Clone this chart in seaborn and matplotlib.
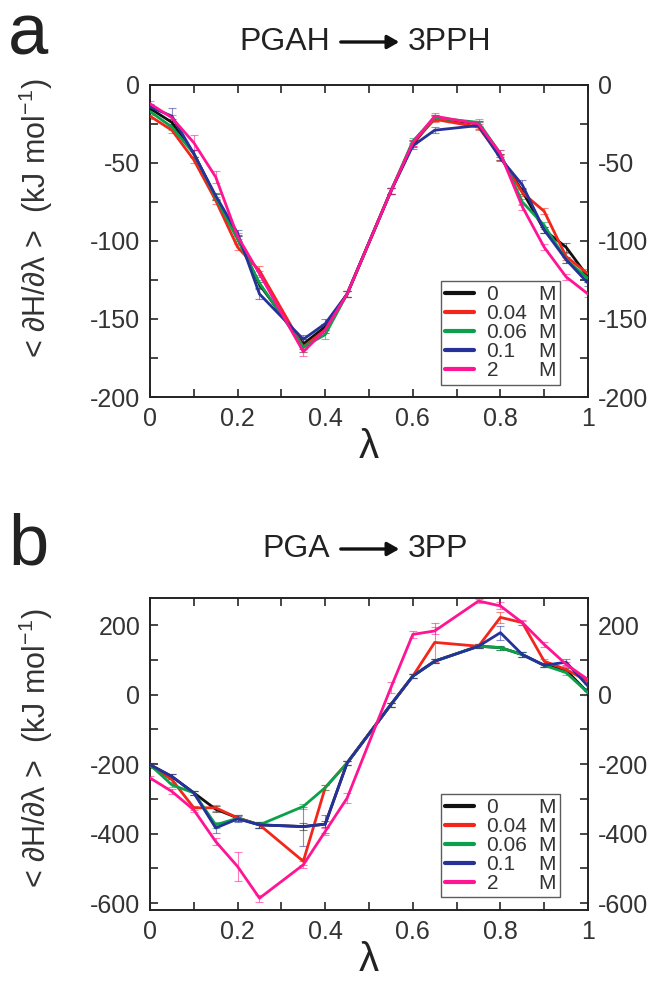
import numpy as np
import pandas as pd
import matplotlib
matplotlib.use("Agg")
import matplotlib.pyplot as plt
from matplotlib.lines import Line2D
import seaborn as sns

# lambda windows
lam = [0, 0.05, 0.1, 0.15, 0.2, 0.25, 0.35, 0.4, 0.45, 0.55, 0.6, 0.65, 0.75, 0.8, 0.85, 0.9, 0.95, 1.0]
conc = ["0", "0.04", "0.06", "0.1", "2"]
colors = ["#111111", "#f2261a", "#0aa14a", "#26319a", "#ff1493"]

# panel a: PGAH -> 3PPH
a_0 = [-15, -24, -44, -72, -98, -128, -166, -155, -134, -68, -38, -21, -25, -46, -68, -93, -104, -123]
a_004 = [-20, -29, -48, -74, -104, -119, -168, -157, -134, -68, -37, -22, -27, -46, -69, -81, -110, -121]
a_006 = [-17, -27, -44, -72, -99, -127, -168, -160, -134, -68, -36, -21, -24, -44, -75, -90, -112, -124]
a_01 = [-14, -20, -44, -71, -95, -134, -163, -153, -134, -68, -39, -29, -26, -47, -64, -93, -112, -127]
a_2 = [-12, -21, -37, -59, -97, -121, -171, -157, -134, -68, -37, -20, -25, -44, -78, -104, -123, -134]
a_err_0 = [2, 2, 2, 2, 2, 2, 3, 2, 2, 2, 2, 2, 2, 2, 2, 2, 3, 3]
a_err_004 = [2, 2, 2, 2, 2, 3, 3, 2, 2, 2, 2, 2, 2, 2, 2, 2, 2, 3]
a_err_006 = [2, 2, 2, 2, 2, 2, 3, 3, 2, 2, 2, 2, 2, 2, 2, 2, 2, 2]
a_err_01 = [2, 5, 2, 2, 2, 3, 3, 3, 2, 2, 2, 2, 2, 2, 3, 2, 2, 2]
a_err_2 = [2, 2, 5, 4, 2, 2, 3, 2, 2, 2, 2, 2, 2, 2, 2, 2, 2, 2]

# panel b: PGA -> 3PP
b_0 = [-202, -236, -283, -330, -355, -375, -380, -373, -197, -29, 53, 96, 139, 135, 115, 84, 70, 5]
b_004 = [-205, -245, -326, -326, -355, -375, -480, -268, -197, -29, 53, 150, 139, 222, 207, 96, 72, 38]
b_006 = [-202, -260, -283, -375, -356, -375, -322, -268, -197, -29, 53, 96, 139, 135, 115, 84, 63, 5]
b_01 = [-202, -236, -283, -384, -358, -375, -380, -373, -197, -29, 53, 96, 139, 178, 115, 84, 93, 24]
b_2 = [-240, -279, -332, -423, -495, -586, -490, -394, -298, 20, 173, 183, 269, 255, 207, 144, 87, 43]
b_err_0 = [6, 6, 6, 8, 8, 8, 10, 8, 6, 6, 6, 6, 6, 6, 6, 6, 6, 6]
b_err_004 = [6, 6, 6, 8, 8, 8, 10, 8, 6, 6, 6, 55, 6, 15, 6, 6, 6, 6]
b_err_006 = [6, 6, 6, 8, 8, 8, 8, 8, 6, 6, 6, 6, 6, 6, 6, 6, 6, 6]
b_err_01 = [6, 6, 6, 15, 8, 8, 55, 25, 6, 6, 6, 6, 6, 20, 6, 6, 8, 6]
b_err_2 = [6, 8, 6, 10, 42, 10, 10, 10, 15, 15, 10, 10, 6, 10, 8, 6, 6, 6]

sns.set_style("ticks")
plt.rcParams["font.family"] = ["Liberation Sans", "DejaVu Sans"]
plt.rcParams["mathtext.fontset"] = "custom"
plt.rcParams["mathtext.rm"] = "Liberation Sans"
plt.rcParams["mathtext.it"] = "Liberation Sans:italic"

fig = plt.figure(figsize=(6.57, 9.81), dpi=100)
ax_a = fig.add_axes([0.2283, 0.5953, 0.6667, 0.3181])
ax_b = fig.add_axes([0.2283, 0.0724, 0.6667, 0.3181])


def draw_panel(ax, series, errs, ylim, yticks, ylabels, yminor):
    rows = []
    for c, vals in zip(conc, series):
        for x, y in zip(lam, vals):
            rows.append({"lam": x, "val": y, "conc": c})
    df = pd.DataFrame(rows)
    for c, col, vals, e in zip(conc, colors, series, errs):
        ax.errorbar(lam, vals, yerr=e, fmt="none", ecolor=col, elinewidth=0.8,
                    capsize=3, capthick=0.8, alpha=0.55, zorder=2)
    sns.lineplot(data=df, x="lam", y="val", hue="conc", palette=dict(zip(conc, colors)),
                 hue_order=conc, linewidth=2.0, ax=ax, legend=False, zorder=3)
    ax.set_xlim(0, 1)
    ax.set_ylim(*ylim)
    ax.set_xticks([0, 0.2, 0.4, 0.6, 0.8, 1.0])
    ax.set_xticklabels(["0", "0.2", "0.4", "0.6", "0.8", "1"])
    ax.set_xticks([0.1, 0.3, 0.5, 0.7, 0.9], minor=True)
    ax.set_yticks(yticks)
    ax.set_yticklabels(ylabels)
    ax.set_yticks(yminor, minor=True)
    ax.tick_params(which="both", direction="in", top=True, right=True,
                   labelright=True, width=1.2, labelsize=18, pad=7,
                   labelcolor="#333333")
    ax.tick_params(which="major", length=6)
    ax.tick_params(which="minor", length=6)
    for s in ax.spines.values():
        s.set_linewidth(1.4)
        s.set_color("#222222")
    ax.set_xlabel("λ", fontsize=29, labelpad=-2, color="#222222")
    ax.set_ylabel("")

    handles = [Line2D([], [], color=col, lw=3) for col in colors]
    blanks = [Line2D([], [], color="none") for _ in conc]
    leg = ax.legend(handles + blanks, conc + ["M"] * 5, ncol=2, loc="lower right",
                    bbox_to_anchor=(0.935, 0.04), fontsize=15, frameon=True,
                    fancybox=False, edgecolor="#333333", handlelength=1.4,
                    handletextpad=0.6, columnspacing=-1.5, labelspacing=0.0,
                    borderpad=0.2, borderaxespad=0)
    leg.get_frame().set_linewidth(1.0)
    for t in leg.get_texts():
        t.set_color("#333333")


draw_panel(ax_a, [a_0, a_004, a_006, a_01, a_2],
           [a_err_0, a_err_004, a_err_006, a_err_01, a_err_2],
           (-200, 0), [-200, -150, -100, -50, 0],
           ["-200", "-150", "-100", "-50", "0"], [-175, -125, -75, -25])
draw_panel(ax_b, [b_0, b_004, b_006, b_01, b_2],
           [b_err_0, b_err_004, b_err_006, b_err_01, b_err_2],
           (-620, 278), [-600, -400, -200, 0, 200],
           ["-600", "-400", "-200", "0", "200"], [-500, -300, -100, 100])

ylab = "< ∂H/∂λ >  (kJ mol$^{-1}$)"
fig.text(36 / 657, 1 - 218 / 981, ylab, rotation=90, ha="center", va="center",
         fontsize=22, color="#333333")
fig.text(36 / 657, 1 - 748 / 981, ylab, rotation=90, ha="center", va="center",
         fontsize=22, color="#333333")

# panel letters
fig.text(8 / 657, 1 - 36 / 981, "a", fontsize=52, ha="left", va="center", color="#222222")
fig.text(8 / 657, 1 - 546 / 981, "b", fontsize=52, ha="left", va="center", color="#222222")

# reaction titles
for ycen, left, right in [(42, "PGAH", "3PPH"), (549, "PGA", "3PP")]:
    yf = 1 - ycen / 981
    fig.text(330 / 657, yf, left, fontsize=23, ha="right", va="center", color="#222222")
    fig.text(408 / 657, yf, right, fontsize=23, ha="left", va="center", color="#222222")
    fig.patches.append(matplotlib.patches.FancyArrowPatch(
        (338 / 657, yf), (402 / 657, yf), transform=fig.transFigure,
        arrowstyle="-|>,head_length=7,head_width=4", lw=2.4, color="#111111",
        mutation_scale=1))

fig.savefig("out.png", dpi=100)
